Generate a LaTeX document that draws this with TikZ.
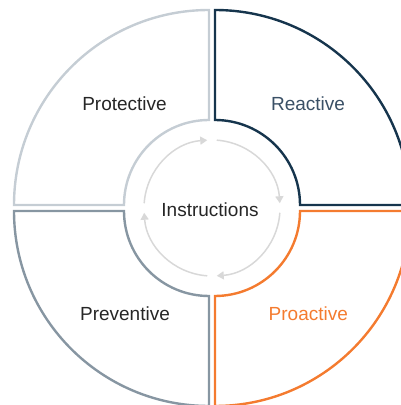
\documentclass[tikz,border=0pt]{standalone}
\usepackage{fontspec}
\setmainfont{Liberation Sans}
\usetikzlibrary{arrows.meta}
\definecolor{protectgray}{HTML}{C5CDD4}
\definecolor{reactnavy}{HTML}{16354D}
\definecolor{preventgray}{HTML}{8796A2}
\definecolor{proactorange}{HTML}{F47B2F}
\definecolor{cyclegray}{HTML}{D8D8D8}
\definecolor{reacttext}{HTML}{3A5066}
\begin{document}
\begin{tikzpicture}[x=1pt,y=1pt,
    quarter/.style={line width=2.4pt},
    sectortext/.style={font=\fontsize{19}{21}\selectfont, text=black!85},
    cyclearrow/.style={draw=cyclegray, line width=1.5pt,
      -{Triangle[length=7pt,width=8pt]}}]
  \useasboundingbox (0,0) rectangle (401,405);
  \clip (0,0) rectangle (401,405);
  % four quarters of the ring
  \draw[quarter, draw=protectgray]
    (209,285) -- (209,395) arc[start angle=90, end angle=180, radius=195]
    -- (124,200) arc[start angle=180, end angle=90, radius=85] -- cycle;
  \draw[quarter, draw=reactnavy]
    (215,285) -- (215,395) arc[start angle=90, end angle=0, radius=195]
    -- (300,200) arc[start angle=0, end angle=90, radius=85] -- cycle;
  \draw[quarter, draw=preventgray]
    (209,109) -- (209,-1) arc[start angle=270, end angle=180, radius=195]
    -- (124,194) arc[start angle=180, end angle=270, radius=85] -- cycle;
  \draw[quarter, draw=proactorange]
    (215,109) -- (215,-1) arc[start angle=270, end angle=360, radius=195]
    -- (300,194) arc[start angle=0, end angle=-90, radius=85] -- cycle;
  % cycle in the middle
  \foreach \a in {0,-90,-180,-270}
    \draw[cyclearrow] (212,197) ++(\a+176:68)
      arc[start angle=\a+176, end angle=\a+94, radius=68];
  \node[sectortext] (protective) at (124.5,301.5) {Protective};
  \node[sectortext, text=reacttext] (reactive) at (308,301.5) {Reactive};
  \node[sectortext] (preventive) at (125,91.5) {Preventive};
  \node[sectortext, text=proactorange] (proactive) at (308.3,91.5) {Proactive};
  \node[sectortext] (instructions) at (210,195) {Instructions};
\end{tikzpicture}
\end{document}
